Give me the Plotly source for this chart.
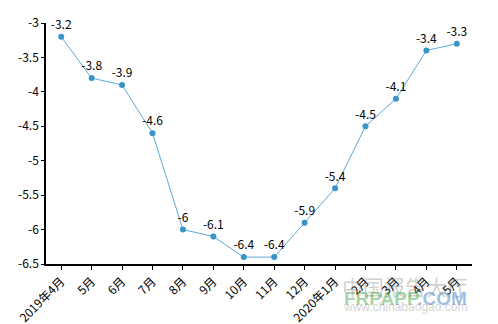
import plotly.graph_objects as go

months = ["2019年4月", "5月", "6月", "7月", "8月", "9月", "10月", "11月", "12月",
          "2020年1月", "2月", "3月", "4月", "5月"]
values = [-3.2, -3.8, -3.9, -4.6, -6.0, -6.1, -6.4, -6.4, -5.9, -5.4, -4.5, -4.1, -3.4, -3.3]
labels = ["-3.2", "-3.8", "-3.9", "-4.6", "-6", "-6.1", "-6.4", "-6.4", "-5.9", "-5.4",
          "-4.5", "-4.1", "-3.4", "-3.3"]
y_ticks = [-6.5, -6, -5.5, -5, -4.5, -4, -3.5, -3]
y_tick_text = ["-6.5", "-6", "-5.5", "-5", "-4.5", "-4", "-3.5", "-3"]

xi = list(range(len(months)))

fig = go.Figure()
fig.add_trace(go.Scatter(
    x=xi, y=values, mode="lines+markers+text",
    line=dict(color="#5aaadb", width=1),
    marker=dict(color="#3a93c9", size=6),
    text=labels, textposition="top center",
    textfont=dict(family="Noto Sans CJK SC, sans-serif", size=12, color="#000"),
    cliponaxis=False, hoverinfo="skip", showlegend=False,
))

fig.update_layout(
    width=498, height=324,
    margin=dict(l=46, r=26, t=23, b=60, autoexpand=False),
    plot_bgcolor="white", paper_bgcolor="white",
    font=dict(family="Noto Sans CJK SC, sans-serif", size=12, color="#000"),
    xaxis=dict(
        range=[-0.5, 13.5], tickmode="array", tickvals=xi, ticktext=months,
        tickangle=-45, showgrid=False, zeroline=False, automargin=False,
        showline=True, linecolor="black", linewidth=1.5,
        ticks="outside", ticklen=4, tickcolor="black", tickfont=dict(size=12),
    ),
    yaxis=dict(
        range=[-6.5, -3], tickmode="array", tickvals=y_ticks, ticktext=y_tick_text,
        showgrid=False, zeroline=False, automargin=False,
        showline=True, linecolor="black", linewidth=1.5,
        ticks="outside", ticklen=3, tickcolor="black", tickfont=dict(size=12),
    ),
)

# watermark
wm = dict(xref="paper", yref="paper", showarrow=False, xanchor="center", yanchor="middle")
fig.add_annotation(x=0.843, y=-0.091, text="中国报告大厅",
                   font=dict(size=21, color="rgba(120,120,120,0.35)"), **wm)
fig.add_annotation(x=0.843, y=-0.145,
                   text="<b><span style='color:rgba(80,170,80,0.5)'>FRPAPP</span>"
                        "<span style='color:rgba(60,130,200,0.5)'>.COM</span></b>",
                   font=dict(family="Liberation Sans", size=19), **wm)
fig.add_annotation(x=0.843, y=-0.178, text="www.chinabaogao.com",
                   font=dict(family="Liberation Sans", size=12, color="rgba(120,120,120,0.35)"), **wm)

fig.write_html("out.html")
